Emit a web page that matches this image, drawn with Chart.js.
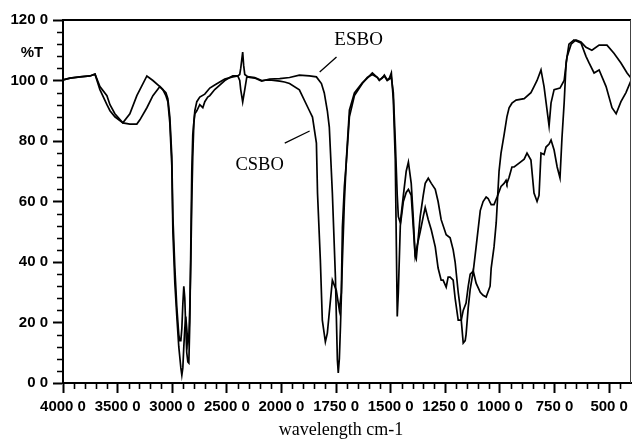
<!DOCTYPE html>
<html>
<head>
<meta charset="utf-8">
<script src="https://cdn.jsdelivr.net/npm/chart.js@4"></script>
<style>
  html, body { margin: 0; padding: 0; background: #fff; }
  #wrap { width: 633px; height: 439px; }
</style>
</head>
<body>
<div id="wrap"><canvas id="c" width="633" height="439"></canvas></div>
<script>
// ---- data (wavenumber cm-1, %T) ----
const esboWn = [4000,3936,3845,3753,3707,3662,3598,3570,3525,3452,3388,3324,3232,3177,3113,3086,3058,3040,3022,3004,2994,2976,2958,2940,2931,2921,2912,2903,2894,2885,2876,2867,2857,2848,2839,2830,2821,2812,2793,2775,2748,2702,2656,2611,2565,2519,2446,2400,2382,2373,2355,2346,2336,2318,2291,2245,2181,2108,2016,1963,1918,1872,1840,1817,1804,1790,1781,1767,1753,1744,1740,1735,1730,1721,1712,1703,1689,1666,1630,1607,1584,1561,1552,1538,1529,1516,1506,1497,1488,1479,1474,1470,1465,1456,1442,1429,1419,1406,1397,1388,1383,1374,1365,1351,1342,1328,1314,1296,1283,1269,1260,1246,1237,1228,1214,1205,1191,1177,1168,1155,1145,1136,1122,1109,1090,1077,1063,1054,1040,1027,1013,995,981,972,968,958,945,935,912,889,876,858,844,830,821,812,798,789,775,766,752,738,725,716,706,697,684,661,629,606,592,569,546,514,487,468,446,423,400];
const esboT  = [100.2,100.8,101.2,101.5,102.1,97,92,90,88,86,89,95,101.5,100,98,97,96,94,88,75,55,38,25,16,14,14,18,26,32,28,18,10,7,6.6,20,45,70,82,90,93,94.5,95.5,97.5,98.5,99.5,100.5,101.2,101.5,102,104,109.4,105,102,101.5,101,100.8,99.8,100.5,100.6,101,101.8,101.5,101.2,99,95.9,90,84.6,62.8,35,7.6,3.3,8,18.5,40.7,60,73.7,90.2,95.9,99.2,100.8,102.5,101,100.2,100.8,101.8,100.2,100.8,102.5,93.6,73.7,45,22,30,52,60,63,64,62,52,42,44,47,50,55,58,54,50.6,45,38,34,34,31.7,35,35,34,28,20.8,20.8,24,26.4,32,36,37,45,57,60,61.5,61,59,59,61.5,65,66,67,66,68,71.4,71.4,72.7,74,76,73.7,62.8,60,62,76,75.5,78,79,80.3,77,71.4,67.8,81,92.6,105.8,112,113.4,112.4,108,105.8,102.5,103.5,98,91,89,93,96,100];

const csboWn = [4000,3936,3845,3753,3707,3662,3598,3570,3525,3452,3388,3324,3296,3232,3177,3113,3086,3058,3040,3022,3004,2994,2976,2958,2940,2921,2912,2903,2894,2885,2876,2867,2857,2848,2839,2830,2821,2812,2802,2793,2775,2748,2720,2702,2675,2656,2611,2565,2519,2473,2446,2400,2382,2373,2355,2336,2318,2291,2245,2181,2108,2016,1986,1963,1918,1872,1858,1840,1835,1822,1813,1799,1790,1767,1749,1735,1726,1721,1712,1703,1689,1666,1630,1607,1584,1561,1552,1538,1529,1516,1506,1497,1488,1479,1470,1465,1456,1442,1429,1419,1406,1397,1388,1383,1374,1365,1351,1342,1328,1314,1296,1283,1269,1246,1228,1214,1205,1191,1182,1168,1159,1155,1145,1136,1122,1109,1090,1077,1063,1045,1040,1027,1017,1004,995,981,968,958,945,926,889,858,844,830,812,798,775,766,752,725,706,693,674,652,629,606,579,546,510,478,446,418,400];
const csboT  = [100.2,100.8,101.2,101.5,102.1,98,95,92,89,86,85.6,85.6,87,91,95,98,97,95,93,86,72,50,33,22,12,5,2.6,5,12,18,22,18,13,15,25,40,60,75,86,89,90,92,91,93,94.5,95,97,98.5,100,101,101.5,101.5,100,97,92.9,97,101,101.2,101,100,100.2,99.8,99.5,99,96.9,90,87.9,79.3,62.8,40.7,20.8,13.6,16.5,34,30.7,24.1,29.8,51.6,65,73,88,95,99,101,102,101,100,101,101.5,100,100.5,101,96,80,62,55,53,62,70,73,66,55,42,41,48,55,62,66,67.7,66,64,60,54,49,48,44,40,30,25,13.2,14,16,25,31,37,33,30,29,28.4,32,38,45,53,70,76,82,88,91,92.5,93.5,94,96,98,100,103.5,98,85,92.6,97,97.5,100,107.8,112,113.4,112.7,111,110,111.7,111.7,109,105.8,102.5,100.8];

// ---- tick labels ----
const xTickWn = [4000,3500,3000,2500,2000,1750,1500,1250,1000,750,500];
const xTickLabels = ['4000 0','3500 0','3000 0','2500 0','2000 0','1750 0','1500 0','1250 0','1000 0','750 0','500 0'];
const yTickValues = [0,20,40,60,80,100,120];
const yTickLabels = ['0 0','20 0','40 0','60 0','80 0','100 0','120 0'];

// IR axis: scale changes at 2000 cm-1 (500 per division above, 250 per division below)
function toAxis(w) { return w >= 2000 ? (4000 - w) / 500 : 4 + (2000 - w) / 250; }

function pts(wn, t) { return wn.map((w, i) => ({ x: toAxis(w), y: t[i] })); }

const TICK_FONT = { family: "'Liberation Sans', Arial, sans-serif", size: 15, weight: 'bold' };

const overlay = {
  id: 'overlay',
  afterDraw(chart) {
    const { ctx, chartArea: a, scales: { x, y } } = chart;
    ctx.save();
    ctx.strokeStyle = '#000';
    ctx.lineWidth = 1.6;
    ctx.beginPath();
    for (let k = 1; k < 52; k++) {
      if (k % 5 === 0) continue;
      const px = Math.round(x.getPixelForValue(k * 0.2)) + 0.5;
      ctx.moveTo(px, a.bottom); ctx.lineTo(px, a.bottom + 6);
    }
    for (let v = 4; v < 120; v += 4) {
      if (v % 20 === 0) continue;
      const py = Math.round(y.getPixelForValue(v)) + 0.5;
      ctx.moveTo(a.left - 6, py); ctx.lineTo(a.left, py);
    }
    ctx.stroke();
    // frame: top and right
    ctx.lineWidth = 2;
    ctx.beginPath();
    ctx.moveTo(a.left, a.top); ctx.lineTo(a.right, a.top);
    ctx.stroke();
    ctx.lineWidth = 1;
    ctx.strokeStyle = '#444';
    ctx.beginPath();
    ctx.moveTo(a.right - 0.5, a.top); ctx.lineTo(a.right - 0.5, a.bottom);
    ctx.stroke();
    // pointer lines
    ctx.strokeStyle = '#000';
    ctx.lineWidth = 1.3;
    ctx.beginPath();
    ctx.moveTo(x.getPixelForValue(toAxis(1825)), y.getPixelForValue(102.8));
    ctx.lineTo(x.getPixelForValue(toAxis(1748)), y.getPixelForValue(107.8));
    ctx.moveTo(x.getPixelForValue(toAxis(1985)), y.getPixelForValue(79.3));
    ctx.lineTo(x.getPixelForValue(toAxis(1871)), y.getPixelForValue(83.3));
    ctx.stroke();
    // labels
    ctx.fillStyle = '#000';
    ctx.textAlign = 'center';
    ctx.textBaseline = 'middle';
    ctx.font = "19px 'Liberation Serif', 'Times New Roman', serif";
    ctx.fillText('ESBO', x.getPixelForValue(toAxis(1647)), y.getPixelForValue(113.4));
    ctx.font = "18.5px 'Liberation Serif', 'Times New Roman', serif";
    ctx.fillText('CSBO', x.getPixelForValue(toAxis(2200)), y.getPixelForValue(72));
    ctx.font = "bold 15px 'Liberation Sans', Arial, sans-serif";
    ctx.fillText('%T', a.left - 31, y.getPixelForValue(109));
    ctx.textBaseline = 'alphabetic';
    ctx.font = "18px 'Liberation Serif', 'Times New Roman', serif";
    ctx.fillText('wavelength cm-1', (a.left + a.right) / 2 - 6, a.bottom + 52);
    ctx.restore();
  }
};

new Chart(document.getElementById('c'), {
  type: 'line',
  data: {
    datasets: [
      { label: 'ESBO', data: pts(esboWn, esboT), borderColor: '#000', borderWidth: 1.7, pointRadius: 0, tension: 0, fill: false },
      { label: 'CSBO', data: pts(csboWn, csboT), borderColor: '#000', borderWidth: 1.7, pointRadius: 0, tension: 0, fill: false }
    ]
  },
  options: {
    responsive: false,
    animation: false,
    events: [],
    layout: { padding: { top: 20, right: 2, left: 0, bottom: 0 } },
    plugins: { legend: { display: false }, tooltip: { enabled: false }, title: { display: false } },
    scales: {
      x: {
        type: 'linear',
        min: 0, max: toAxis(400),
        afterBuildTicks: (s) => { s.ticks = xTickWn.map(w => ({ value: toAxis(w) })); },
        afterFit: (s) => { s.height = 56; s.paddingLeft = 0; s.paddingRight = 0; },
        ticks: {
          autoSkip: false, maxRotation: 0, minRotation: 0, padding: 5,
          color: '#000', font: TICK_FONT,
          callback: (v, i) => xTickLabels[i]
        },
        grid: { drawOnChartArea: false, drawTicks: true, tickLength: 10, tickColor: '#000', tickWidth: 2 },
        border: { display: true, color: '#000', width: 2 }
      },
      y: {
        type: 'linear',
        min: 0, max: 120,
        afterBuildTicks: (s) => { s.ticks = yTickValues.map(v => ({ value: v })); },
        afterFit: (s) => { s.width = 63; s.paddingTop = 0; s.paddingBottom = 0; },
        ticks: {
          autoSkip: false, padding: 5,
          color: '#000', font: TICK_FONT,
          callback: (v, i) => yTickLabels[i]
        },
        grid: { drawOnChartArea: false, drawTicks: true, tickLength: 10, tickColor: '#000', tickWidth: 2 },
        border: { display: true, color: '#000', width: 2 }
      }
    }
  },
  plugins: [overlay]
});
</script>
</body>
</html>
